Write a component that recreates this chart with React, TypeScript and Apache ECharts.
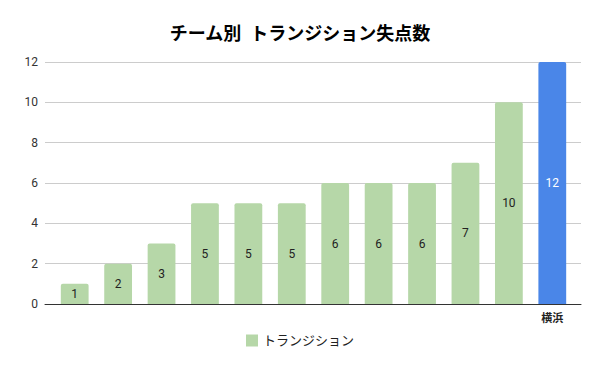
import React, { useEffect, useRef } from "react";
import * as echarts from "echarts";

const categories = ["", "", "", "", "", "", "", "", "", "", "", "横浜"];
const values = [1, 2, 3, 5, 5, 5, 6, 6, 6, 7, 10, 12];
const highlightIndex = 11;
const seriesName = "トランジション";
const title = "チーム別  トランジション失点数";

export default function App() {
  const ref = useRef<HTMLDivElement>(null);
  useEffect(() => {
    if (!ref.current) return;
    const chart = echarts.init(ref.current, undefined, { renderer: "svg" });
    const font = "Roboto, 'Noto Sans CJK JP', sans-serif";
    chart.setOption({
      animation: false,
      textStyle: { fontFamily: font },
      title: {
        text: title,
        left: "center",
        top: 19,
        textStyle: { fontSize: 18, fontWeight: "bold", color: "#000", fontFamily: font },
      },
      legend: {
        bottom: 19,
        left: "center",
        itemWidth: 12,
        itemHeight: 12,
        icon: "rect",
        data: [seriesName],
        textStyle: { fontSize: 13, color: "#222", fontFamily: font },
      },
      grid: [
        { left: 53, right: 26, top: 62, bottom: 67 },
        { left: 45, right: 19, top: 62, bottom: 67 },
      ],
      xAxis: [
        {
          type: "category",
          gridIndex: 0,
          data: categories,
          axisLine: { show: false },
          axisTick: { show: false },
          axisLabel: { color: "#222", fontSize: 11, fontWeight: "bold", margin: 9, interval: 0 },
        },
        {
          type: "value",
          gridIndex: 1,
          min: 0,
          max: 1,
          axisLine: { show: true, lineStyle: { color: "#333", width: 1 } },
          axisTick: { show: false },
          axisLabel: { show: false },
          splitLine: { show: false },
        },
      ],
      yAxis: [
        {
          type: "value",
          gridIndex: 0,
          min: 0,
          max: 12,
          interval: 2,
          axisLabel: { show: false },
          splitLine: { show: false },
          axisLine: { show: false },
          axisTick: { show: false },
        },
        {
          type: "value",
          gridIndex: 1,
          min: 0,
          max: 12,
          interval: 2,
          axisLine: { show: false },
          axisTick: { show: false },
          axisLabel: { color: "#333", fontSize: 12, margin: 7 },
          splitLine: { lineStyle: { color: "#ccc", width: 1 } },
        },
      ],
      series: [
        {
          name: seriesName,
          type: "bar",
          xAxisIndex: 0,
          yAxisIndex: 0,
          barWidth: "64%",
          z: 5,
          itemStyle: { color: "#b6d7a8", borderRadius: [2, 2, 0, 0] },
          label: {
            show: true,
            position: "inside",
            fontSize: 12,
            color: "#222",
          },
          data: values.map((v, i) =>
            i === highlightIndex
              ? { value: v, itemStyle: { color: "#4a86e8" }, label: { color: "#fff" } }
              : v
          ),
        },
      ],
    });
    return () => chart.dispose();
  }, []);
  return <div ref={ref} style={{ width: 600, height: 371, margin: -8 }} />;
}
